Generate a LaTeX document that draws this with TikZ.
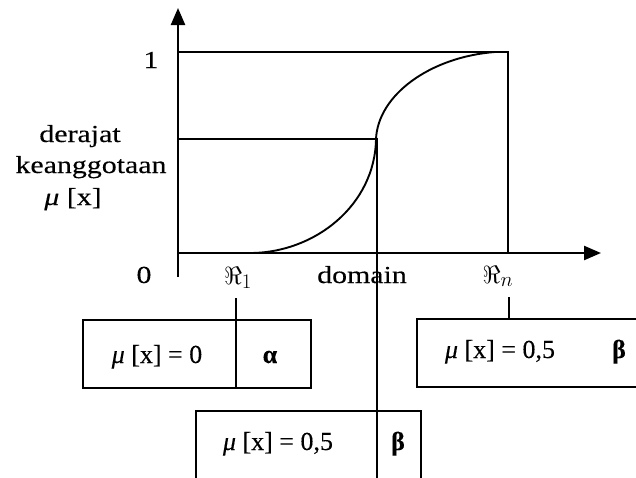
\documentclass[tikz,border=0pt]{standalone}
\usepackage{fontspec}
\setmainfont{Liberation Serif}[FakeBold=0.2]
\newfontfamily\widefont[FakeStretch=1.22,FakeBold=0.2]{Liberation Serif}
\usetikzlibrary{arrows.meta}
\tikzset{
  lbl/.style={font=\fontsize{24.5}{28}\selectfont\widefont, inner sep=0pt, anchor=base},
  boxtxt/.style={font=\fontsize{26}{30}\selectfont, inner sep=0pt, anchor=base},
  axisline/.style={line width=2.4pt, -{Triangle[length=17pt,width=14pt]}},
  valbox/.style={draw, line width=2pt, inner sep=0pt},
}
\begin{document}
\begin{tikzpicture}[x=1pt,y=-1pt,line width=1.9pt]
\useasboundingbox (0,0) rectangle (636,477);
\clip (0,0) rectangle (636,477);
% axes
\coordinate (o) at (178,253);
\coordinate (ybot) at (178,277);
\coordinate (ytip) at (178,8);
\coordinate (xtip) at (601,253);
\draw[axisline] (ybot) -- (ytip);
\draw[axisline] (o) -- (xtip);
% grid lines
\coordinate (ymax) at (178,52);
\coordinate (yhalf) at (178,139);
\coordinate (xmax) at (508,253);
\coordinate (xhalf) at (377,253);
\coordinate (xmin) at (250,253);
\draw (ymax) -- (xmax |- ymax) -- (xmax);
\draw (yhalf) -- (xhalf |- yhalf) -- ([yshift=-240pt]xhalf);
% curve
\draw (xmin) .. controls (315,253) and (375,205) .. (376,139)
      .. controls (378,95) and (430,57) .. (495,52);
% labels
\node[lbl] (one) at (151,68) {1};
\node[lbl] (deraj) at (80,142) {derajat};
\node[lbl] (keang) at (91,173) {keanggotaan};
\node[lbl] (mux) at (73,205) {{\itshape μ} [x]};
\node[lbl] (zero) at (144,283) {0};
\node[lbl, font=\fontsize{28}{32}\selectfont] (r1) at (238,284) {$\Re_1$};
\node[lbl] (dom) at (362,283) {domain};
\node[lbl, font=\fontsize{28}{32}\selectfont] (rn) at (498,283) {$\Re_n$};
% boxes
\node[valbox, minimum width=228pt, minimum height=68pt] (boxa) at (197,354) {};
\node[valbox, minimum width=225pt, minimum height=134pt] (boxb) at (308.5,478) {};
\node[valbox, minimum width=283pt, minimum height=68pt] (boxc) at (558.5,353) {};
\coordinate (ta) at (236,298);
\coordinate (tc) at (509,297);
\draw (ta) -- (ta |- boxa.south);
\draw (tc) -- (tc |- boxc.north);
\node[boxtxt] (vala) at (157,363) {{\itshape μ} [x] = 0};
\node[boxtxt] (alfa) at (270,363) {\textbf{α}};
\node[boxtxt] (valb) at (278,450) {{\itshape μ} [x] = 0,5};
\node[boxtxt] (betb) at (398,450) {\textbf{β}};
\node[boxtxt] (valc) at (500,358) {{\itshape μ} [x] = 0,5};
\node[boxtxt] (betc) at (619,358) {\textbf{β}};
\end{tikzpicture}
\end{document}
